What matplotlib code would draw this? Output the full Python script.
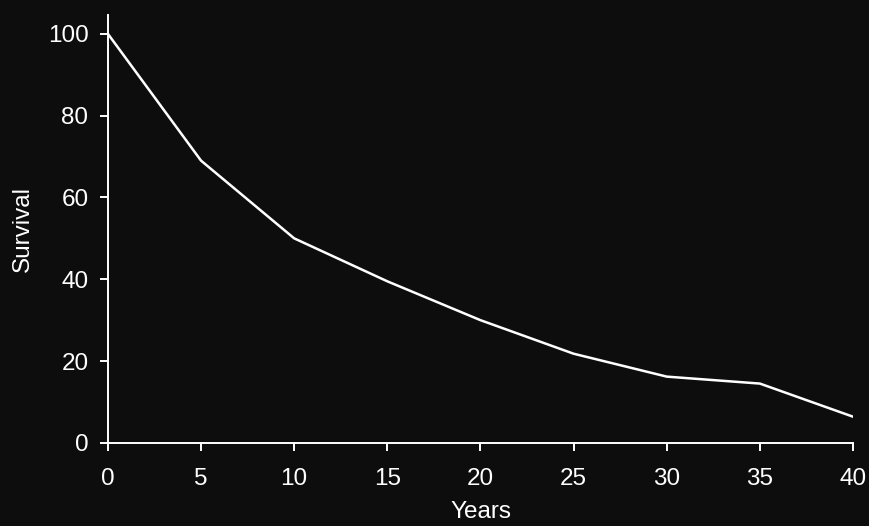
import matplotlib.pyplot as plt

# Survival curve
years = [0, 5, 10, 15, 20, 25, 30, 35, 40]
survival = [100, 69, 50, 39.5, 30, 21.8, 16.2, 14.5, 6.4]

x_ticks = [0, 5, 10, 15, 20, 25, 30, 35, 40]
y_ticks = [0, 20, 40, 60, 80, 100]

plt.rcParams['font.family'] = ['Liberation Sans', 'DejaVu Sans']

fig = plt.figure(figsize=(8.7, 5.26), dpi=100, facecolor='#0d0d0d')
ax = fig.add_axes([0.124, 0.158, 0.8565, 0.8135])
ax.set_facecolor('#0d0d0d')

ax.plot(years, survival, color='white', linewidth=1.8)

ax.set_xlim(0, 40)
ax.set_ylim(0, 104.6)
ax.set_xticks(x_ticks)
ax.set_yticks(y_ticks)

for side in ['top', 'right']:
    ax.spines[side].set_visible(False)
for side in ['left', 'bottom']:
    ax.spines[side].set_color('white')
    ax.spines[side].set_linewidth(1.4)

ax.tick_params(colors='white', labelsize=17.5, length=6, width=1.4, direction='out')
ax.tick_params(axis='x', pad=12)
ax.tick_params(axis='y', pad=8)

ax.set_xlabel('Years', color='white', fontsize=17.5, labelpad=8)
ax.set_ylabel('Survival', color='white', fontsize=17.5, labelpad=10)

fig.savefig('out.png', dpi=100, facecolor=fig.get_facecolor())
